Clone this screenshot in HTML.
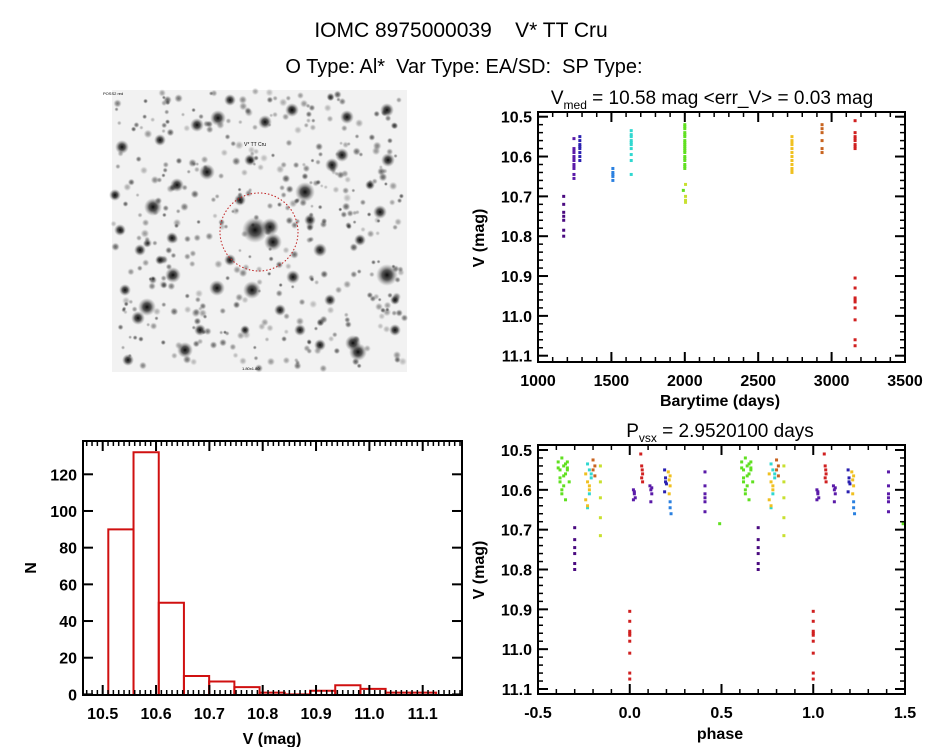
<!DOCTYPE html>
<html><head><meta charset="utf-8">
<style>
html,body{margin:0;padding:0;background:#fff;}
body{width:944px;height:747px;overflow:hidden;font-family:"Liberation Sans",sans-serif;}
svg text{font-family:"Liberation Sans",sans-serif;fill:#000;}
</style></head>
<body>
<svg id="fig" width="944" height="747" viewBox="0 0 944 747">
<defs>
<radialGradient id="star"><stop offset="0" stop-color="#000" stop-opacity="0.95"/><stop offset="0.45" stop-color="#222" stop-opacity="0.75"/><stop offset="1" stop-color="#777" stop-opacity="0"/></radialGradient>
</defs>
<text x="461" y="37" font-size="21" text-anchor="middle" xml:space="preserve">IOMC 8975000039    V* TT Cru</text>
<text x="464" y="73" font-size="20" text-anchor="middle" xml:space="preserve">O Type: Al*  Var Type: EA/SD:  SP Type:</text>
<g id="img"></g>
<g id="lc"></g>
<g id="hist"></g>
<g id="ph"></g>
</svg>
<script>
// ---- light curve data ----
const lcTimes = [1175,1175,1175,1175,1175,1175,1175, 1245,1245,1245,1245,1245,1245,1245,1245,1245,1245,1245,1245, 1285,1285,1285,1285,1285,1285,1285,1285, 1510,1510,1510,1510,1510, 1635,1635,1635,1635,1635,1635,1635,1635,1635,1635, 2000,2000,2000,2000,2000,2000,2000,2000,2000,2000,2000,2000,2000,2000,2000,2000,2000,2000,2000,1990,2005,2005,2005,2005, 2730,2730,2730,2730,2730,2730,2730,2730,2730,2730,2730,2730, 2935,2935,2935,2935,2935,2935, 3160,3160,3160,3160,3160,3160,3160,3160,3160,3160,3160,3160,3160,3160,3160,3160,3160];
const lcMags = [10.70,10.72,10.74,10.75,10.76,10.785,10.80, 10.555,10.58,10.585,10.59,10.60,10.605,10.61,10.62,10.625,10.63,10.645,10.655, 10.55,10.56,10.57,10.575,10.58,10.59,10.60,10.61, 10.63,10.64,10.645,10.65,10.66, 10.535,10.545,10.55,10.56,10.565,10.57,10.58,10.595,10.61,10.645, 10.52,10.525,10.53,10.54,10.545,10.55,10.56,10.565,10.57,10.575,10.58,10.585,10.59,10.60,10.605,10.61,10.62,10.63,10.625,10.685,10.67,10.70,10.71,10.715, 10.55,10.56,10.565,10.57,10.58,10.59,10.60,10.61,10.62,10.63,10.635,10.64, 10.52,10.53,10.54,10.56,10.58,10.59, 10.51,10.54,10.55,10.555,10.56,10.57,10.575,10.58, 10.905,10.93,10.955,10.96,10.965,10.98,11.01,11.06,11.075];
const lcColors = ["#4a0a80","#5a1aa8","#2a20b0","#2a80e0","#30d8d0","#60e020","#c8e030","#f0c020","#c86420","#d02020"];
const lcGroup = [0,0,0,0,0,0,0, 1,1,1,1,1,1,1,1,1,1,1,1, 2,2,2,2,2,2,2,2, 3,3,3,3,3, 4,4,4,4,4,4,4,4,4,4, 5,5,5,5,5,5,5,5,5,5,5,5,5,5,5,5,5,5,5,5,6,6,6,6, 7,7,7,7,7,7,7,7,7,7,7,7, 8,8,8,8,8,8, 9,9,9,9,9,9,9,9,9,9,9,9,9,9,9,9,9];
// ---- phase data (phase in [-0.5,0.5), plotted at phase and phase+1) ----
const phPhase = [-0.39,-0.38,-0.37,-0.36,-0.35,-0.34,-0.33,-0.38,-0.36,-0.34,-0.37,-0.35,-0.39,-0.36,-0.35,-0.38,-0.34,-0.37, -0.23,-0.22,-0.21,-0.22,-0.23,-0.21, -0.24,-0.23,-0.22,-0.24,-0.23,-0.22, -0.20,-0.19,-0.20,-0.19, -0.16,-0.16,-0.16,-0.16,-0.16, -0.30,-0.30,-0.30,-0.30,-0.30,-0.30, 0.0,0.0,0.0,0.0,0.0,0.0,0.0,0.0,0.0, 0.06,0.065,0.07,0.065,0.07,0.068, 0.02,0.025,0.03,0.02,0.025, 0.11,0.115,0.12,0.115,0.12, 0.19,0.195,0.20,0.19,0.195, 0.21,0.215,0.22,0.215,0.22, 0.22,0.22,0.225, 0.41,0.41,0.41,0.41,0.41,0.41, 0.49];
const phMags = [10.53,10.55,10.52,10.54,10.56,10.53,10.58,10.57,10.59,10.55,10.60,10.625,10.545,10.565,10.535,10.58,10.545,10.61, 10.535,10.55,10.57,10.61,10.645,10.56, 10.56,10.58,10.60,10.625,10.64,10.59, 10.525,10.54,10.55,10.565, 10.54,10.58,10.62,10.67,10.715, 10.695,10.725,10.745,10.76,10.785,10.80, 10.905,10.93,10.955,10.96,10.965,10.98,11.01,11.06,11.075, 10.51,10.54,10.56,10.57,10.58,10.55, 10.60,10.61,10.62,10.625,10.605, 10.59,10.60,10.61,10.63,10.595, 10.55,10.57,10.585,10.605,10.58, 10.555,10.575,10.59,10.61,10.565, 10.63,10.645,10.66, 10.555,10.59,10.61,10.63,10.655,10.62, 10.685];
const phGroup = [5,5,5,5,5,5,5,5,5,5,5,5,5,5,5,5,5,5, 4,4,4,4,4,4, 7,7,7,7,7,7, 8,8,8,8, 6,6,6,6,6, 0,0,0,0,0,0, 9,9,9,9,9,9,9,9,9, 9,9,9,9,9,9, 1,1,1,1,1, 1,1,1,1,1, 2,2,2,2,2, 7,7,7,7,7, 3,3,3, 1,1,1,1,1,1, 5];
// ---- histogram data ----
const histEdges = [10.5105,10.5578,10.6051,10.6523,10.6996,10.7469,10.7942,10.8414,10.8887,10.9360,10.9833,11.0305,11.0778,11.1251];
const histCounts = [90,132,50,10,7,4,1,0,2,5,3,1,1];
const lcXTicks = [1000,1500,2000,2500,3000,3500];
const magTicks = [10.5,10.6,10.7,10.8,10.9,11.0,11.1];
const histXTicks = [10.5,10.6,10.7,10.8,10.9,11.0,11.1];
const histYTicks = [0,20,40,60,80,100,120];
const phXTicks = [-0.5,0.0,0.5,1.0,1.5];

const NS="http://www.w3.org/2000/svg";
function mk(parent,tag,attrs,txt){const e=document.createElementNS(NS,tag);for(const k in attrs)e.setAttribute(k,attrs[k]);if(txt!==undefined)e.textContent=txt;parent.appendChild(e);return e;}
function lin(d0,d1,r0,r1){return v=>r0+(v-d0)/(d1-d0)*(r1-r0);}

function frame(g,L,T,R,B,xs,ys,xMaj,xMinStep,yMaj,yMinStep,xFmt,yFmt,xr,yr,name){
  const r=mk(g,'rect',{x:L,y:T,width:R-L,height:B-T,fill:'none',stroke:'#000','stroke-width':2});
  
  
  if(xMinStep){for(let v=xr[0]-((xr[0]%xMinStep)+xMinStep)%xMinStep; v<=xr[1]+1e-9; v+=xMinStep){const x=xs(v);if(x<L||x>R)continue;mk(g,'line',{x1:x,x2:x,y1:B,y2:B-5,stroke:'#000','stroke-width':1.5});mk(g,'line',{x1:x,x2:x,y1:T,y2:T+5,stroke:'#000','stroke-width':1.5});}}
  if(yMinStep){for(let v=Math.ceil(yr[0]/yMinStep)*yMinStep; v<=yr[1]+1e-9; v+=yMinStep){const y=ys(v);if(y<T||y>B)continue;mk(g,'line',{x1:L,x2:L+5,y1:y,y2:y,stroke:'#000','stroke-width':1.5});mk(g,'line',{x1:R,x2:R-5,y1:y,y2:y,stroke:'#000','stroke-width':1.5});}}
  xMaj.forEach(v=>{const x=xs(v);mk(g,'line',{x1:x,x2:x,y1:B,y2:B-10,stroke:'#000','stroke-width':2});mk(g,'line',{x1:x,x2:x,y1:T,y2:T+10,stroke:'#000','stroke-width':2});
    const t=mk(g,'text',{x:x,y:B+24,'font-size':16,'font-weight':'bold','text-anchor':'middle'},xFmt(v));
    
    });
  yMaj.forEach(v=>{const y=ys(v);mk(g,'line',{x1:L,x2:L+10,y1:y,y2:y,stroke:'#000','stroke-width':2});mk(g,'line',{x1:R,x2:R-10,y1:y,y2:y,stroke:'#000','stroke-width':2});
    const t=mk(g,'text',{x:L-6,y:y+6,'font-size':16,'font-weight':'bold','text-anchor':'end'},yFmt(v));
    
    });
}
function ylabel(g,x,y,txt,name){const t=mk(g,'text',{x:0,y:0,'font-size':16,'font-weight':'bold','text-anchor':'middle',transform:`translate(${x},${y}) rotate(-90)`},txt);
  
  }
function xlabel(g,x,y,txt,name){const t=mk(g,'text',{x:x,y:y,'font-size':16,'font-weight':'bold','text-anchor':'middle'},txt);
  
  }
const f1=v=>v.toFixed(1);

// ---- star field ----
(function(){
  const g=document.getElementById('img');
  mk(g,'rect',{x:112,y:90,width:295,height:282,fill:'#f2f2f2'});
  let seed=12345;const rnd=()=>{seed=(seed*1103515245+12345)%2147483648;return seed/2147483648;};
  for(let i=0;i<420;i++){mk(g,'circle',{cx:113+rnd()*293,cy:91+rnd()*280,r:2+rnd()*2.5,fill:'url(#star)',opacity:0.25+rnd()*0.45});}
  const big=[[218,118,8],[197,125,7],[265,122,7],[292,110,7],[347,117,7],[387,110,7],[122,147,7],[207,172,8],[177,185,7],[305,192,10],[332,165,7],[342,155,7],[388,160,7],[153,207,9],[380,212,7],[255,230,13],[270,227,9],[273,242,9],[173,275,8],[320,250,7],[387,275,11],[217,288,8],[252,290,9],[293,277,7],[147,307,9],[138,318,7],[185,350,8],[358,352,9],[353,343,8],[115,195,6],[172,238,6],[240,200,6],[230,260,6],[200,330,6],[300,330,6],[330,300,6],[395,330,6],[128,360,6],[160,140,6],[250,160,6],[360,240,6],[310,220,6],[140,250,6],[280,310,6],[230,100,6],[120,230,6],[125,290,6],[160,260,5],[245,330,5],[320,345,6],[395,300,5],[370,185,5]];
  big.forEach(s=>{mk(g,'circle',{cx:s[0],cy:s[1],r:s[2],fill:'url(#star)'});});
  const c=mk(g,'circle',{cx:259,cy:232,r:39,fill:'none',stroke:'#c02020','stroke-width':1,'stroke-dasharray':'1.5 2'});
  
  
  mk(g,'text',{x:244,y:146,'font-size':5,fill:'#c02020'},'V* TT Cru');
  mk(g,'text',{x:103,y:95,'font-size':4,fill:'#2020a0'},'POSS2 red');
  mk(g,'text',{x:242,y:370,'font-size':4,fill:'#2020a0'},'1.80x1.80');
})();

// ---- light curve ----
(function(){
  const g=document.getElementById('lc');
  const L=538,R=905,T=112,B=362;
  const xr=[1000,3500],yr=[10.489,11.115];
  const xs=lin(xr[0],xr[1],L,R), ys=lin(10.5,11.1,116.7,355.7);
  lcTimes.forEach((t,i)=>{const p=mk(g,'rect',{x:xs(t)-1.5,y:ys(lcMags[i])-1.5,width:3,height:3,fill:lcColors[lcGroup[i]]});
    
    });
  frame(g,L,T,R,B,xs,ys,lcXTicks,100,magTicks,0.02,v=>String(v),f1,xr,yr,'lc');
  const t=mk(g,'text',{x:712,y:104,'font-size':19,'text-anchor':'middle'});
  
  
  mk(t,'tspan',{},'V');mk(t,'tspan',{'font-size':12,dy:5},'med');mk(t,'tspan',{dy:-5},' = 10.58 mag <err_V> = 0.03 mag');
  ylabel(g,484,238,'V (mag)','lc-y-axis-title');
  xlabel(g,720,406,'Barytime (days)','lc-x-axis-title');
})();

// ---- histogram ----
(function(){
  const g=document.getElementById('hist');
  const L=83,R=462,T=441,B=695;
  const xr=[10.464,11.174];
  const xs=lin(10.5,11.1,102.7,422.7), ys=lin(0,120,694.4,474.3);
  histCounts.forEach((c,i)=>{const x0=xs(histEdges[i]),x1=xs(histEdges[i+1]);const y=ys(c);
    const b=mk(g,'path',{d:`M${x0},${ys(0)}V${y}H${x1}V${ys(0)}`,fill:'none',stroke:'#d01010','stroke-width':2});
    
    });
  frame(g,L,T,R,B,xs,ys,histXTicks,0.01,histYTicks,0,f1,v=>String(v),xr,[0,138],'hist');
  ylabel(g,36,568,'N','hist-y-axis-title');
  xlabel(g,272,744,'V (mag)','hist-x-axis-title');
})();

// ---- phase plot ----
(function(){
  const g=document.getElementById('ph');
  const L=538,R=905,T=445,B=694;
  const xr=[-0.5,1.5],yr=[10.487,11.113];
  const xs=lin(xr[0],xr[1],L,R), ys=lin(10.5,11.1,450,689);
  [0,1].forEach(off=>{phPhase.forEach((p,i)=>{const q=p+off;if(q<xr[0]||q>xr[1])return;
    const m=mk(g,'rect',{x:xs(q)-1.5,y:ys(phMags[i])-1.5,width:3,height:3,fill:lcColors[phGroup[i]]});
    
    });});
  frame(g,L,T,R,B,xs,ys,phXTicks,0.1,magTicks,0.02,f1,f1,xr,yr,'phase');
  const t=mk(g,'text',{x:720,y:437,'font-size':19,'text-anchor':'middle'});
  
  
  mk(t,'tspan',{},'P');mk(t,'tspan',{'font-size':12,dy:5},'vsx');mk(t,'tspan',{dy:-5},' = 2.9520100 days');
  ylabel(g,484,570,'V (mag)','phase-y-axis-title');
  xlabel(g,720,739,'phase','phase-x-axis-title');
})();
</script>
</body></html>
